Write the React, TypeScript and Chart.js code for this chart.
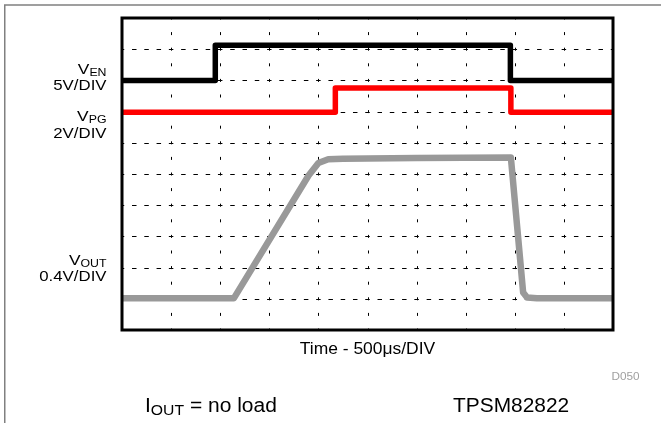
import React, { useEffect, useRef } from "react";
import { Chart, registerables } from "chart.js";

Chart.register(...registerables);

// ---- data (time and level in oscilloscope divisions) ----
const X_DIVISIONS = 10;
const Y_DIVISIONS = 10;

const venTime = [0, 1.9, 1.9, 7.91, 7.91, 10];
const venLevel = [8.0, 8.0, 9.13, 9.13, 8.0, 8.0];

const vpgTime = [0, 4.345, 4.345, 7.92, 7.92, 10];
const vpgLevel = [6.98, 6.98, 7.76, 7.76, 6.98, 6.98];

const voutTime = [0, 2.28, 3.8, 4.0, 4.2, 4.5, 6.0, 7.92, 8.17, 8.25, 8.45, 10];
const voutLevel = [1.02, 1.02, 4.95, 5.35, 5.47, 5.49, 5.51, 5.53, 1.2, 1.04, 1.02, 1.02];

const channelMain = ["V", "V", "V"];
const channelSub = ["EN", "PG", "OUT"];
const channelScale = ["5V/DIV", "2V/DIV", "0.4V/DIV"];

const xAxisTitle = "Time - 500\u03bcs/DIV";
const figureId = "D050";
const conditionMain = "I";
const conditionSub = "OUT";
const conditionRest = " = no load";
const deviceName = "TPSM82822";

const toPoints = (xs: number[], ys: number[]) => xs.map((x, i) => ({ x, y: ys[i] }));

const FONT = '"Liberation Sans", Arial, Helvetica, sans-serif';

type Run = { text: string; size: number; dy: number };

function drawRuns(
  ctx: CanvasRenderingContext2D,
  runs: Run[],
  anchorX: number,
  baseline: number,
  align: "left" | "right" | "center",
  sx: number,
  color: string
) {
  ctx.save();
  ctx.fillStyle = color;
  ctx.textAlign = "left";
  ctx.textBaseline = "alphabetic";
  const widths = runs.map((r) => {
    ctx.font = `${r.size}px ${FONT}`;
    return ctx.measureText(r.text).width * sx;
  });
  const total = widths.reduce((a, b) => a + b, 0);
  let x = align === "right" ? anchorX - total : align === "center" ? anchorX - total / 2 : anchorX;
  runs.forEach((r, i) => {
    ctx.font = `${r.size}px ${FONT}`;
    ctx.save();
    ctx.translate(x, baseline + r.dy);
    ctx.scale(sx, 1);
    ctx.fillText(r.text, 0, 0);
    ctx.restore();
    x += widths[i];
  });
  ctx.restore();
}

const scopeGrid = {
  id: "scopeGrid",
  beforeDatasetsDraw(chart: any) {
    const { ctx, chartArea, scales } = chart;
    const xs = scales.x;
    const ys = scales.y;
    const { left, right, top, bottom } = chartArea;
    ctx.save();
    ctx.strokeStyle = "#000";
    ctx.lineWidth = 1;
    const hPeriod = (xs.getPixelForValue(1) - xs.getPixelForValue(0)) / 4;
    const hDash = 4.5;
    for (let k = 1; k < Y_DIVISIONS; k++) {
      const y = Math.round(ys.getPixelForValue(k)) + 0.5;
      ctx.setLineDash([hDash, hPeriod - hDash]);
      ctx.lineDashOffset = hDash / 2;
      ctx.beginPath();
      ctx.moveTo(left, y);
      ctx.lineTo(right, y);
      ctx.stroke();
    }
    const vPeriod = (ys.getPixelForValue(0) - ys.getPixelForValue(1)) / 2;
    const vDash = 3;
    for (let k = 1; k < X_DIVISIONS; k++) {
      const x = Math.round(xs.getPixelForValue(k)) + 0.5;
      ctx.setLineDash([vDash, vPeriod - vDash]);
      ctx.lineDashOffset = vDash / 2;
      ctx.beginPath();
      ctx.moveTo(x, top);
      ctx.lineTo(x, bottom);
      ctx.stroke();
    }
    ctx.restore();
  },
  afterDatasetsDraw(chart: any) {
    const { ctx, chartArea } = chart;
    const { left, right, top, bottom } = chartArea;
    ctx.save();
    ctx.strokeStyle = "#000";
    ctx.lineWidth = 3;
    ctx.setLineDash([]);
    ctx.strokeRect(left, top, right - left, bottom - top);
    ctx.restore();
  },
  afterDraw(chart: any) {
    const { ctx, chartArea, width } = chart;
    ctx.save();
    ctx.strokeStyle = "#808080";
    ctx.lineWidth = 1.5;
    ctx.beginPath();
    ctx.moveTo(width, 5);
    ctx.lineTo(4.75, 5);
    ctx.lineTo(4.75, chart.height);
    ctx.stroke();
    ctx.restore();

    const labelRight = chartArea.left - 15.5;
    const mainBase = [73.5, 120.5, 265];
    const scaleBase = [90, 137.5, 280.5];
    channelMain.forEach((m, i) => {
      drawRuns(
        ctx,
        [
          { text: m, size: 15.5, dy: 0 },
          { text: channelSub[i], size: 11, dy: 2 },
        ],
        labelRight,
        mainBase[i],
        "right",
        1.12,
        "#000"
      );
      drawRuns(ctx, [{ text: channelScale[i], size: 15, dy: 0 }], labelRight, scaleBase[i], "right", 1.12, "#000");
    });

    const cx = (chartArea.left + chartArea.right) / 2;
    drawRuns(ctx, [{ text: xAxisTitle, size: 16, dy: 0 }], cx, chartArea.bottom + 24, "center", 1.09, "#000");
    drawRuns(ctx, [{ text: figureId, size: 10.5, dy: 0 }], 639.5, 380, "right", 1.12, "#a0a0a0");
    drawRuns(
      ctx,
      [
        { text: conditionMain, size: 20, dy: 0 },
        { text: conditionSub, size: 15, dy: 3.5 },
        { text: conditionRest, size: 20, dy: 0 },
      ],
      145,
      411.5,
      "left",
      1.05,
      "#000"
    );
    drawRuns(ctx, [{ text: deviceName, size: 20, dy: 0 }], 453, 411.5, "left", 1.045, "#000");
  },
};

export default function App() {
  const canvasRef = useRef<HTMLCanvasElement | null>(null);

  useEffect(() => {
    const canvas = canvasRef.current;
    if (!canvas) return;
    const lineDs = (label: string, data: any[], color: string, width: number) => ({
      label,
      data,
      borderColor: color,
      backgroundColor: color,
      borderWidth: width,
      showLine: true,
      pointRadius: 0,
      tension: 0,
      fill: false,
      borderJoinStyle: "round" as const,
      borderCapStyle: "butt" as const,
    });
    const chart = new Chart(canvas, {
      type: "scatter",
      data: {
        datasets: [
          lineDs("VOUT", toPoints(voutTime, voutLevel), "#999999", 6.5),
          lineDs("VPG", toPoints(vpgTime, vpgLevel), "#ff0000", 5.5),
          lineDs("VEN", toPoints(venTime, venLevel), "#000000", 5.5),
        ],
      },
      options: {
        animation: false,
        responsive: false,
        maintainAspectRatio: false,
        events: [],
        layout: { padding: { left: 122, top: 18, right: 48, bottom: 93 } },
        scales: {
          x: { type: "linear", min: 0, max: X_DIVISIONS, display: false },
          y: { type: "linear", min: 0, max: Y_DIVISIONS, display: false },
        },
        plugins: {
          legend: { display: false },
          tooltip: { enabled: false },
          title: { display: false },
        },
      },
      plugins: [scopeGrid],
    });
    return () => chart.destroy();
  }, []);

  return (
    <div style={{ position: "fixed", left: 0, top: 0, width: 661, height: 423, background: "#fff" }}>
      <canvas ref={canvasRef} width={661} height={423} style={{ width: 661, height: 423, display: "block" }} />
    </div>
  );
}
